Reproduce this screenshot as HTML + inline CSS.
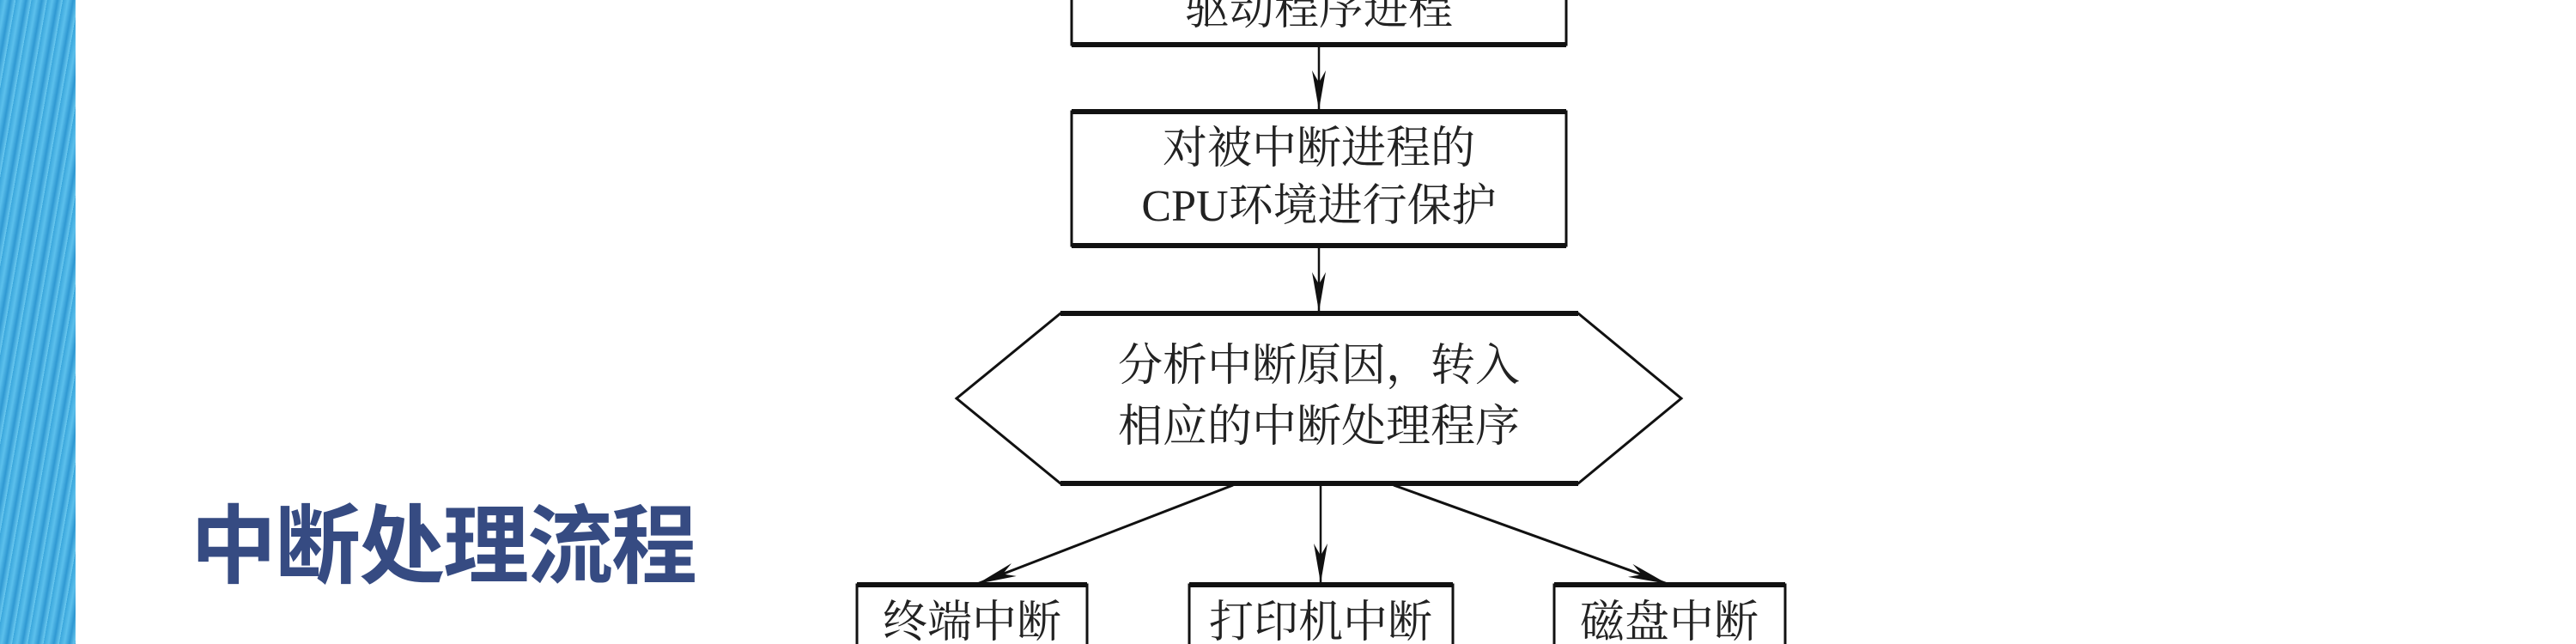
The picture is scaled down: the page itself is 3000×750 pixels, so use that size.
<!DOCTYPE html>
<html><head><meta charset="utf-8"><style>
html,body{margin:0;padding:0;background:#fff;width:3000px;height:750px;overflow:hidden}
.strip{position:absolute;left:0;top:0;width:88px;height:750px;background:repeating-linear-gradient(100deg,#3aa6dc 0px,#5cc0ec 6px,#2f98d2 12px,#6ccaf0 18px)}
.title{position:absolute;left:222px;top:568px;font:bold 100px "Noto Sans CJK SC","WenQuanYi Zen Hei",sans-serif;color:#364b82;letter-spacing:-2px;white-space:nowrap;line-height:120px}
svg{position:absolute;left:0;top:0}
text{font-family:"Liberation Serif","Noto Serif CJK SC","Noto Sans CJK SC",serif;fill:#222}
</style></head><body>
<div class="strip"></div>
<div class="title">中断处理流程</div>
<svg width="3000" height="750" viewBox="0 0 3000 750">
<defs>
<marker id="b" markerWidth="46" markerHeight="16" refX="46" refY="8" orient="auto" markerUnits="userSpaceOnUse" viewBox="0 0 46 16"><path d="M0,0 L46,8 L0,16 L14,8 Z" fill="#111"/></marker></defs>
<g fill="none" stroke="#111" stroke-width="3">
<rect x="1248" y="-20" width="576" height="72"/>
<line x1="1248" y1="52" x2="1824" y2="52" stroke-width="6"/>
<rect x="1248" y="130" width="576" height="156"/>
<line x1="1248" y1="130" x2="1824" y2="130" stroke-width="6"/>
<line x1="1248" y1="286" x2="1824" y2="286" stroke-width="6"/>
<polygon points="1235,365 1838,365 1958,464 1838,563 1235,563 1114,464"/>
<line x1="1235" y1="365" x2="1838" y2="365" stroke-width="6"/>
<line x1="1235" y1="563" x2="1838" y2="563" stroke-width="6"/>
<rect x="998" y="681" width="268" height="100"/>
<rect x="1385" y="681" width="307" height="100"/>
<rect x="1810" y="681" width="269" height="100"/>
<line x1="998" y1="681" x2="1266" y2="681" stroke-width="6"/>
<line x1="1385" y1="681" x2="1692" y2="681" stroke-width="6"/>
<line x1="1810" y1="681" x2="2079" y2="681" stroke-width="6"/>
</g>
<g stroke="#111" stroke-width="2.5">
<line x1="1536" y1="54" x2="1536" y2="128" marker-end="url(#b)"/>
<line x1="1536" y1="288" x2="1536" y2="363" marker-end="url(#b)"/>
<line x1="1538" y1="565" x2="1538" y2="679" marker-end="url(#b)"/>
<line x1="1436" y1="565" x2="1138" y2="680" stroke-width="3" marker-end="url(#b)"/>
<line x1="1623" y1="565" x2="1942" y2="680" stroke-width="3" marker-end="url(#b)"/>
</g>
<g font-size="52" text-anchor="middle">
<text x="1536" y="28">驱动程序进程</text>
<text x="1536" y="190">对被中断进程的</text>
<text x="1536" y="257">CPU环境进行保护</text>
<text x="1536" y="443">分析中断原因，转入</text>
<text x="1536" y="514">相应的中断处理程序</text>
<text x="1132" y="742">终端中断</text>
<text x="1538" y="742">打印机中断</text>
<text x="1944" y="742">磁盘中断</text>
</g>
</svg>
</body></html>
